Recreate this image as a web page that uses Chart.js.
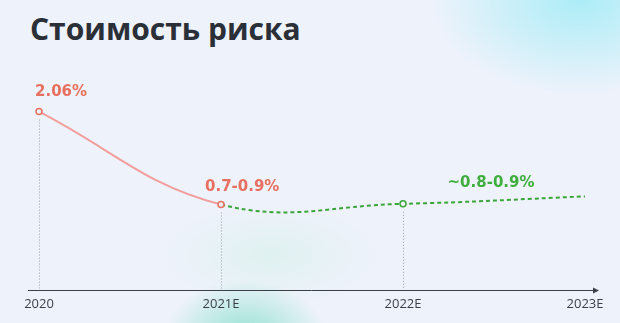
<!DOCTYPE html>
<html>
<head>
<meta charset="utf-8">
<script src="https://cdn.jsdelivr.net/npm/chart.js@4.4.1/dist/chart.umd.min.js"></script>
<style>
  html, body { margin: 0; padding: 0; }
  body {
    width: 620px; height: 323px; overflow: hidden; position: relative;
    background:
      radial-gradient(ellipse 150px 95px at 580px 0px, rgba(160,236,246,0.85), rgba(160,236,246,0) 100%),
      radial-gradient(ellipse 80px 55px at 245px 335px, rgba(130,222,200,0.8), rgba(130,222,200,0) 100%),
      radial-gradient(ellipse 110px 50px at 270px 255px, rgba(205,240,228,0.45), rgba(205,240,228,0) 100%),
      #eef2fb;
  }
  h1 {
    position: absolute; left: 30px; top: 8px; margin: 0;
    font-family: "Open Sans", sans-serif; font-weight: 700; font-size: 30px;
    color: #2b2f38; letter-spacing: 0px;
  }
  #wrap { position: absolute; left: 0; top: 0; width: 620px; height: 323px; }
</style>
</head>
<body>
<h1>Стоимость риска</h1>
<div id="wrap"><canvas id="c" width="620" height="323"></canvas></div>
<script>
const categories = ["2020", "2021E", "2022E", "2023E"];
const costOfRisk = [2.06, 0.8, 0.81, 0.91];
const valueLabels = ["2.06%", "0.7-0.9%", "~0.8-0.9%"];

const RED_LINE = "#f29e9c";
const RED_TEXT = "#e7705f";
const GREEN = "#3aa63a";
const GREEN_TEXT = "#3fae3f";

const overlay = {
  id: "overlay",
  beforeDatasetsDraw(chart) {
    const ctx = chart.ctx;
    const meta = chart.getDatasetMeta(0);
    const bottom = chart.chartArea.bottom;
    ctx.save();
    ctx.strokeStyle = "#9aa0aa";
    ctx.lineWidth = 1;
    ctx.setLineDash([1, 2]);
    for (let i = 0; i < 3; i++) {
      const p = meta.data[i];
      ctx.beginPath();
      ctx.moveTo(Math.round(p.x) + 0.5, p.y + 8);
      ctx.lineTo(Math.round(p.x) + 0.5, bottom - 2);
      ctx.stroke();
    }
    ctx.setLineDash([]);
    const y = Math.round(bottom) + 0.5;
    ctx.strokeStyle = "#3a3f48";
    ctx.lineWidth = 1;
    ctx.beginPath();
    ctx.moveTo(28, y);
    ctx.lineTo(595, y);
    ctx.stroke();
    ctx.fillStyle = "#3a3f48";
    ctx.beginPath();
    ctx.moveTo(599, y);
    ctx.lineTo(593, y - 3);
    ctx.lineTo(593, y + 3);
    ctx.closePath();
    ctx.fill();
    ctx.restore();
  },
  afterDatasetsDraw(chart) {
    const ctx = chart.ctx;
    const d = chart.getDatasetMeta(0).data;
    ctx.save();
    ctx.font = "bold 15px 'DejaVu Sans', sans-serif";
    ctx.textBaseline = "middle";
    ctx.textAlign = "left";
    ctx.fillStyle = RED_TEXT;
    ctx.fillText(valueLabels[0], d[0].x - 4, d[0].y - 19);
    ctx.fillText(valueLabels[1], d[1].x - 16, d[1].y - 17);
    ctx.fillStyle = GREEN_TEXT;
    ctx.textAlign = "center";
    ctx.fillText(valueLabels[2], (d[2].x + d[3].x) / 2 - 3, d[2].y - 21);
    ctx.restore();
  }
};

new Chart(document.getElementById("c"), {
  type: "line",
  data: {
    labels: categories,
    datasets: [{
      data: costOfRisk,
      tension: 0.4,
      borderWidth: 2,
      borderColor: GREEN,
      segment: {
        borderColor: c => c.p0DataIndex === 0 ? RED_LINE : GREEN,
        borderDash: c => c.p0DataIndex === 0 ? [] : [4, 3]
      },
      pointRadius: [3, 3, 3, 0],
      pointHoverRadius: 0,
      pointBorderWidth: 1.5,
      pointBorderColor: [RED_TEXT, RED_TEXT, GREEN, GREEN],
      pointBackgroundColor: "#eef2fb"
    }]
  },
  plugins: [overlay],
  options: {
    responsive: false,
    animation: false,
    events: [],
    layout: { padding: { left: 39, right: 35, top: 60, bottom: 5 } },
    plugins: { legend: { display: false }, tooltip: { enabled: false } },
    scales: {
      x: {
        offset: false,
        grid: { display: false, drawTicks: false },
        border: { display: false },
        ticks: {
          padding: 6,
          color: "#3a3f48",
          font: { family: "'Open Sans', sans-serif", size: 13 },
          maxRotation: 0,
          autoSkip: false
        }
      },
      y: {
        display: false,
        min: -0.364,
        max: 2.759
      }
    }
  }
});
</script>
</body>
</html>
